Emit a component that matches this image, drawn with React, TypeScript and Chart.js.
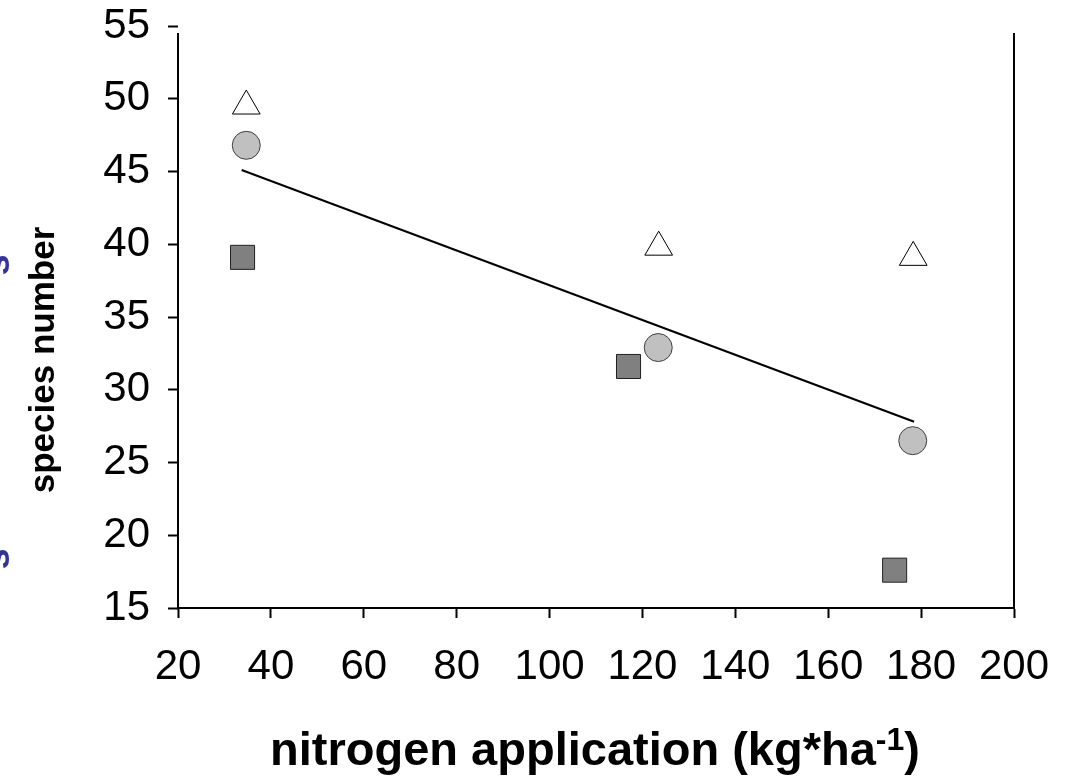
import React, { useEffect, useRef } from "react";
import { Chart, registerables } from "chart.js";

Chart.register(...registerables);

// ---- data ----
const triangleX = [34.7, 123.5, 178.3];
const triangleY = [49.5, 39.8, 39.1];
const circleX = [34.7, 123.4, 178.2];
const circleY = [46.8, 32.9, 26.5];
const squareX = [33.9, 117.0, 174.3];
const squareY = [39.1, 31.6, 17.6];
const trendX = [33.7, 178.5];
const trendY = [45.1, 27.8];
const xTickValues = [20, 40, 60, 80, 100, 120, 140, 160, 180, 200];
const yTickValues = [15, 20, 25, 30, 35, 40, 45, 50, 55];
const yTitle = "species number";
const xTitleMain = "nitrogen application (kg*ha";
const xTitleSup = "-1";
const xTitleEnd = ")";

const FONT = "Arial, 'Liberation Sans', sans-serif";

const pts = (xs: number[], ys: number[]) => xs.map((x, i) => ({ x, y: ys[i] }));

const decorPlugin = {
  id: "decor",
  afterDraw(chart: any) {
    const { ctx, chartArea } = chart;
    ctx.save();
    // left and right frame lines
    ctx.strokeStyle = "#000";
    ctx.lineWidth = 2;
    ctx.beginPath();
    ctx.moveTo(chartArea.left, chartArea.top + 7);
    ctx.lineTo(chartArea.left, chartArea.bottom);
    ctx.moveTo(chartArea.right, chartArea.top + 7);
    ctx.lineTo(chartArea.right, chartArea.bottom);
    ctx.stroke();

    // y title
    ctx.fillStyle = "#000";
    ctx.font = `bold 35px ${FONT}`;
    ctx.textAlign = "center";
    ctx.textBaseline = "middle";
    ctx.save();
    ctx.translate(44, 360);
    ctx.rotate(-Math.PI / 2);
    ctx.fillText(yTitle, 0, 0);
    ctx.restore();

    // clipped blue fragments at the left edge
    ctx.fillStyle = "#333399";
    ctx.font = `bold 38px ${FONT}`;
    ctx.textBaseline = "alphabetic";
    ctx.textAlign = "center";
    [265, 559].forEach((cy) => {
      ctx.save();
      ctx.translate(9, cy);
      ctx.rotate(-Math.PI / 2);
      ctx.fillText("s", 0, 0);
      ctx.restore();
    });

    // x title with superscript
    ctx.fillStyle = "#000";
    ctx.textAlign = "left";
    ctx.textBaseline = "alphabetic";
    const mainFont = `bold 47px ${FONT}`;
    const supFont = `bold 32px ${FONT}`;
    ctx.font = mainFont;
    const w1 = ctx.measureText(xTitleMain).width;
    const w3 = ctx.measureText(xTitleEnd).width;
    ctx.font = supFont;
    const w2 = ctx.measureText(xTitleSup).width;
    const total = w1 + w2 + w3;
    let x = 595 - total / 2;
    const base = 765;
    ctx.font = mainFont;
    ctx.fillText(xTitleMain, x, base);
    x += w1;
    ctx.font = supFont;
    ctx.fillText(xTitleSup, x, base - 15);
    x += w2;
    ctx.font = mainFont;
    ctx.fillText(xTitleEnd, x, base);
    ctx.restore();
  },
};

export default function App() {
  const ref = useRef<HTMLCanvasElement | null>(null);

  useEffect(() => {
    if (!ref.current) return;
    const chart = new Chart(ref.current, {
      type: "scatter",
      data: {
        datasets: [
          {
            type: "line",
            label: "trend",
            data: pts(trendX, trendY),
            borderColor: "#000",
            borderWidth: 2,
            pointRadius: 0,
            fill: false,
            order: 4,
          },
          {
            label: "triangles",
            data: pts(triangleX, triangleY),
            pointStyle: "triangle",
            pointRadius: 16,
            backgroundColor: "#ffffff",
            borderColor: "#000",
            borderWidth: 1,
            order: 3,
          },
          {
            label: "squares",
            data: pts(squareX, squareY),
            pointStyle: "rect",
            pointRadius: 17,
            backgroundColor: "#808080",
            borderColor: "#202020",
            borderWidth: 1,
            order: 2,
          },
          {
            label: "circles",
            data: pts(circleX, circleY),
            pointStyle: "circle",
            pointRadius: 14,
            backgroundColor: "#c0c0c0",
            borderColor: "#404040",
            borderWidth: 1,
            order: 1,
          },
        ] as any,
      },
      options: {
        animation: false,
        responsive: false,
        maintainAspectRatio: false,
        layout: { padding: { left: 0, right: 56, top: 26, bottom: 0 } },
        plugins: {
          legend: { display: false },
          tooltip: { enabled: false },
        },
        scales: {
          x: {
            type: "linear",
            min: xTickValues[0],
            max: xTickValues[xTickValues.length - 1],
            afterBuildTicks: (s: any) => {
              s.ticks = xTickValues.map((v) => ({ value: v }));
            },
            afterFit: (s: any) => {
              s.height = 176;
              s.paddingLeft = 0;
              s.paddingRight = 0;
              s.paddingTop = 0;
              s.paddingBottom = 0;
            },
            grid: {
              drawOnChartArea: false,
              drawTicks: true,
              tickLength: 10,
              tickWidth: 2,
              tickColor: "#000",
            },
            border: { display: true, color: "#000", width: 2 },
            ticks: {
              color: "#000",
              font: { family: FONT, size: 42 },
              padding: 24,
              maxRotation: 0,
              autoSkip: false,
            },
          },
          y: {
            type: "linear",
            min: yTickValues[0],
            max: yTickValues[yTickValues.length - 1],
            afterBuildTicks: (s: any) => {
              s.ticks = yTickValues.map((v) => ({ value: v }));
            },
            afterFit: (s: any) => {
              s.width = 178;
              s.paddingLeft = 0;
              s.paddingRight = 0;
              s.paddingTop = 0;
              s.paddingBottom = 0;
            },
            grid: {
              drawOnChartArea: false,
              drawTicks: true,
              tickLength: 10,
              tickWidth: 2,
              tickColor: "#000",
            },
            border: { display: false },
            ticks: {
              color: "#000",
              font: { family: FONT, size: 42 },
              padding: 18,
              autoSkip: false,
            },
          },
        },
      },
      plugins: [decorPlugin],
    } as any);
    return () => chart.destroy();
  }, []);

  return (
    <div style={{ position: "absolute", left: 0, top: 0, width: 1070, height: 784, background: "#fff" }}>
      <canvas ref={ref} width={1070} height={784} style={{ width: 1070, height: 784 }} />
    </div>
  );
}
